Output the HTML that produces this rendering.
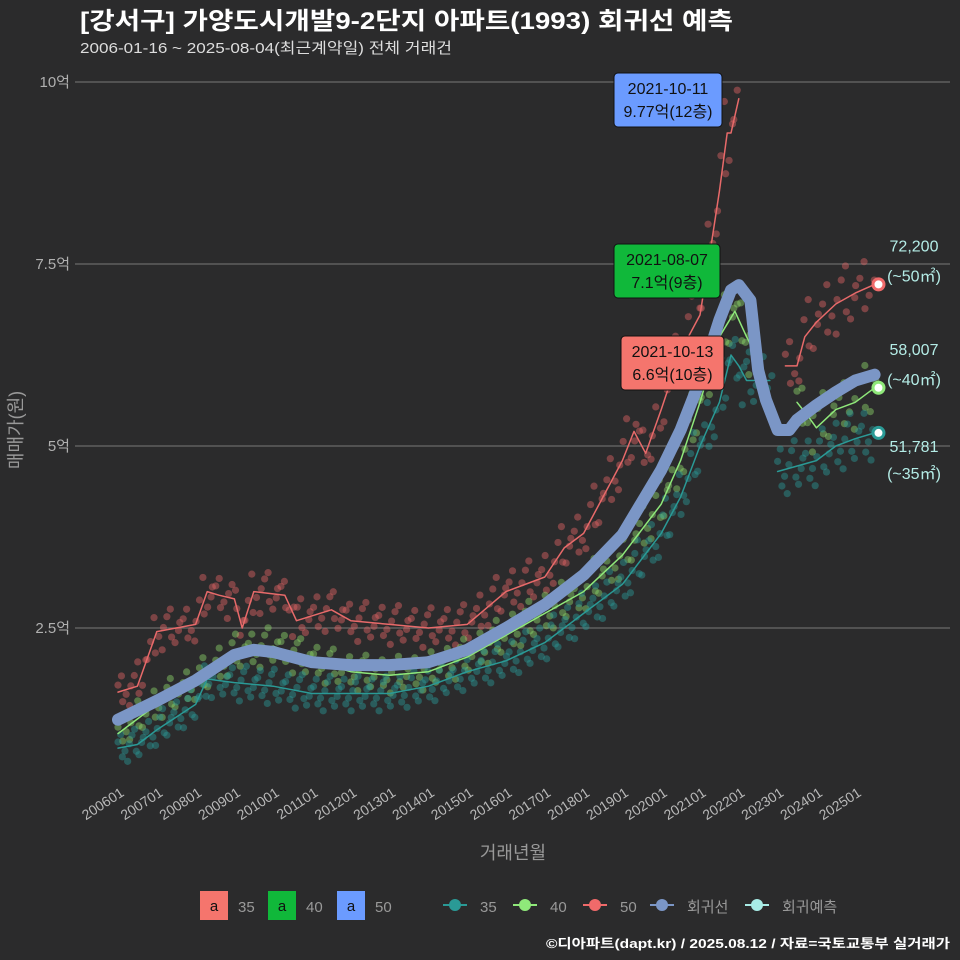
<!DOCTYPE html>
<html><head><meta charset="utf-8"><style>
html,body{margin:0;padding:0;background:#2b2b2c;}
svg{display:block;font-family:"Liberation Sans","Noto Sans CJK KR",sans-serif;}
</style></head><body>
<svg id="chart" width="960" height="960" viewBox="0 0 960 960">
<rect width="960" height="960" fill="#2b2b2c"/>
<text x="80" y="29" fill="#ffffff" font-size="24" font-weight="bold" textLength="653" lengthAdjust="spacingAndGlyphs">[강서구] 가양도시개발9-2단지 아파트(1993) 회귀선 예측</text>
<text x="80" y="53" fill="#dddddd" font-size="15" textLength="372" lengthAdjust="spacingAndGlyphs">2006-01-16 ~ 2025-08-04(최근계약일) 전체 거래건</text>
<g id="grid"></g>
<g id="yaxis"></g>
<g id="xaxis"></g>
<g id="scatter"></g>
<g id="lines"></g>
<g id="ann"></g>
<text transform="translate(22,430) rotate(-90)" text-anchor="middle" fill="#999" font-size="18">매매가(원)</text>
<text x="513" y="859" text-anchor="middle" fill="#999" font-size="18">거래년월</text>
<g id="legend"></g>
<text x="950" y="948" text-anchor="end" fill="#ffffff" font-size="13" font-weight="bold" textLength="404" lengthAdjust="spacingAndGlyphs">©디아파트(dapt.kr) / 2025.08.12 / 자료=국토교통부 실거래가</text>
</svg>
<script>
const yTicks=[10,7.5,5,2.5];
const yTickLabels=["10억","7.5억","5억","2.5억"];
const xTickYears=[2006,2007,2008,2009,2010,2011,2012,2013,2014,2015,2016,2017,2018,2019,2020,2021,2022,2023,2024,2025];
const xTickLabels=["200601","200701","200801","200901","201001","201101","201201","201301","201401","201501","201601","201701","201801","201901","202001","202101","202201","202301","202401","202501"];
const regT=[2006,2007,2008,2009,2009.5,2010,2011,2012,2013,2014,2015,2016,2017,2018,2019,2020,2020.5,2021,2021.5,2021.8,2022,2022.3,2022.5,2022.7,2023,2023.3,2023.5,2024,2024.5,2025,2025.5];
const regV=[1.24,1.5,1.78,2.13,2.2,2.17,2.03,1.99,1.99,2.03,2.2,2.5,2.82,3.23,3.78,4.67,5.22,5.9,6.73,7.14,7.21,7.0,6.04,5.63,5.22,5.22,5.36,5.56,5.74,5.9,5.98];
const s50T=[2006,2006.5,2007,2007.5,2008,2008.3,2008.6,2009,2009.2,2009.5,2010.3,2010.6,2011.5,2012,2013,2014,2015,2016,2017,2017.5,2018,2018.5,2019,2019.3,2019.6,2020,2020.5,2021,2021.3,2021.5,2021.7,2021.8,2022];
const s50V=[1.62,1.7,2.45,2.5,2.55,3.0,2.95,2.9,2.5,3.0,2.95,2.6,2.75,2.6,2.55,2.5,2.55,3.0,3.2,3.6,3.8,4.3,4.8,5.2,4.9,5.5,6.3,6.8,7.8,8.5,9.3,9.3,9.77];
const s50bT=[2023.2,2023.5,2023.7,2024,2024.5,2025,2025.5];
const s50bV=[6.1,6.1,6.5,6.7,6.95,7.1,7.22];
const s40T=[2006,2007,2008,2009,2010,2011,2012,2013,2014,2015,2016,2017,2018,2019,2020,2020.5,2021,2021.5,2021.9,2022.2,2022.5];
const s40V=[1.05,1.45,1.75,2.15,2.25,2.05,1.9,1.85,1.9,2.1,2.4,2.7,3.0,3.5,4.2,4.8,5.6,6.5,6.85,6.5,6.2];
const s40bT=[2023.5,2023.8,2024,2024.5,2025,2025.5];
const s40bV=[5.6,5.4,5.25,5.5,5.6,5.8];
const s35T=[2006,2006.5,2007,2008,2008.3,2009,2010,2011,2012,2013,2014,2015,2016,2017,2018,2019,2020,2020.5,2021,2021.5,2021.8,2022,2022.2,2022.8];
const s35V=[0.85,0.9,1.1,1.45,1.8,1.75,1.7,1.6,1.6,1.6,1.7,1.9,2.05,2.3,2.7,3.1,3.8,4.3,5.0,5.6,6.25,6.1,5.9,5.9];
const s35bT=[2023,2024,2024.5,2025,2025.5];
const s35bV=[4.65,4.8,5.0,5.1,5.18];
const predV=[7.22,5.8,5.18];
const predLabels=["72,200","58,007","51,781"];
const predArea=["(~50㎡)","(~40㎡)","(~35㎡)"];
const jitter=[0.12,-0.18,0.25,-0.08,0.05,-0.3,0.2,-0.12,0.3,-0.22,0.08,-0.05];

const NS="http://www.w3.org/2000/svg";
const X=t=>118+(t-2006)*38.8;
const Y=v=>82+(10-v)*72.8;
function mk(tag,attrs,parent){const e=document.createElementNS(NS,tag);for(const k in attrs)e.setAttribute(k,attrs[k]);parent.appendChild(e);return e;}
const grid=document.getElementById('grid'),yax=document.getElementById('yaxis'),xax=document.getElementById('xaxis');
yTicks.forEach((v,i)=>{
  const l=mk('line',{x1:75,x2:950,y1:Y(v),y2:Y(v),stroke:'#6a6a6a','stroke-width':1.2},grid);
  
  
  const t=mk('text',{x:70,y:Y(v)+5,'text-anchor':'end',fill:'#b0b0b0','font-size':15},yax);
  t.textContent=yTickLabels[i];
  
  
});
xTickYears.forEach((yr,i)=>{
  const t=mk('text',{transform:`translate(${X(yr)+7},${795}) rotate(-33)`,'text-anchor':'end',fill:'#b8b8b8','font-size':14},xax);
  t.textContent=xTickLabels[i];
  
  
});
function interp(T,V,t){for(let i=0;i<T.length-1;i++){if(t>=T[i]&&t<=T[i+1]){const f=(t-T[i])/(T[i+1]-T[i]);return V[i]+f*(V[i+1]-V[i]);}}return null;}
const sc=document.getElementById('scatter');
function scat(T,V,color,step){let k=0;for(let t=T[0];t<=T[T.length-1];t+=step){const v=interp(T,V,t);if(v==null)continue;const j=jitter[k%jitter.length]*(0.6+v*0.12);k++;
  const c=mk('circle',{cx:X(t)+(k%3-1)*2,cy:Y(v+j),r:3.6,fill:color,'fill-opacity':0.45},sc);
  
  }}
scat(s50T,s50V,'#e06464',0.07);scat(s50bT,s50bV,'#e06464',0.08);
scat(s40T,s40V,'#8fd86a',0.07);scat(s40bT,s40bV,'#8fd86a',0.09);
scat(s35T,s35V,'#2a9a96',0.06);scat(s35bT,s35bV,'#2a9a96',0.06);
const ln=document.getElementById('lines');
function path(T,V,color,w,name){const d=T.map((t,i)=>(i?'L':'M')+X(t).toFixed(1)+','+Y(V[i]).toFixed(1)).join('');
  const p=mk('path',{d,fill:'none',stroke:color,'stroke-width':w,'stroke-linejoin':'round','stroke-linecap':'round'},ln);
  
  }
path(s35T,s35V,'#2a9a96',1.5,'line-35');path(s35bT,s35bV,'#2a9a96',1.5,'line-35-recent');
path(s40T,s40V,'#8fe87a',1.5,'line-40');path(s40bT,s40bV,'#8fe87a',1.5,'line-40-recent');
path(s50T,s50V,'#e86a6a',1.5,'line-50');path(s50bT,s50bV,'#e86a6a',1.5,'line-50-recent');
path(regT,regV,'#7b96c6',12,'regression-line');
const predColors=['#f06a6a','#8fe87a','#2a9a96'];
predV.forEach((v,i)=>{
  const c=mk('circle',{cx:X(2025.6),cy:Y(v),r:5.5,fill:'#fff',stroke:predColors[i],'stroke-width':3},ln);
  
  
  const y1=i==2?Y(v)+19:Y(v)-33, y2=i==2?Y(v)+46:Y(v)-3;
  const t1=mk('text',{x:914,y:y1,'text-anchor':'middle',fill:'#b4ece6','font-size':16},ln);
  t1.textContent=predLabels[i];
  
  
  const t2=mk('text',{x:914,y:y2,'text-anchor':'middle',fill:'#b4ece6','font-size':16},ln);
  t2.textContent=predArea[i];
  
  
});
const ann=document.getElementById('ann');
[[614,73,108,'#6b9bff','2021-10-11','9.77억(12층)'],[614,244,106,'#10b83a','2021-08-07','7.1억(9층)'],[621,336,103,'#f5756d','2021-10-13','6.6억(10층)']].forEach(a=>{
  const r=mk('rect',{x:a[0],y:a[1],width:a[2],height:54,rx:4,fill:a[3],stroke:'#111','stroke-width':1},ann);
  
  
  [a[4],a[5]].forEach((s,j)=>{const t=mk('text',{x:a[0]+a[2]/2,y:a[1]+21+j*23,'text-anchor':'middle',fill:'#111','font-size':16},ann);t.textContent=s;
    
    });
});
const lg=document.getElementById('legend');
[[200,'#f5756d','35'],[268,'#10b83a','40'],[337,'#6b9bff','50']].forEach(e=>{
  const r=mk('rect',{x:e[0],y:891,width:28,height:29,fill:e[1]},lg);
  
  
  const a=mk('text',{x:e[0]+14,y:911,'text-anchor':'middle',fill:'#111','font-size':15},lg);a.textContent='a';
  
  
  const t=mk('text',{x:e[0]+38,y:912,fill:'#999','font-size':15},lg);t.textContent=e[2];
  
  
});
[[455,'#2a9a96','35'],[525,'#8fe87a','40'],[595,'#f06a6a','50'],[662,'#7b96c6','회귀선'],[757,'#a8ece6','회귀예측']].forEach(e=>{
  const l=mk('line',{x1:e[0]-12,x2:e[0]+12,y1:905,y2:905,stroke:e[1],'stroke-width':2},lg);
  
  
  const c=mk('circle',{cx:e[0],cy:905,r:6,fill:e[1]},lg);
  
  
  const t=mk('text',{x:e[0]+25,y:912,fill:'#999','font-size':15},lg);t.textContent=e[2];
  
  
});
</script>
</body></html>
